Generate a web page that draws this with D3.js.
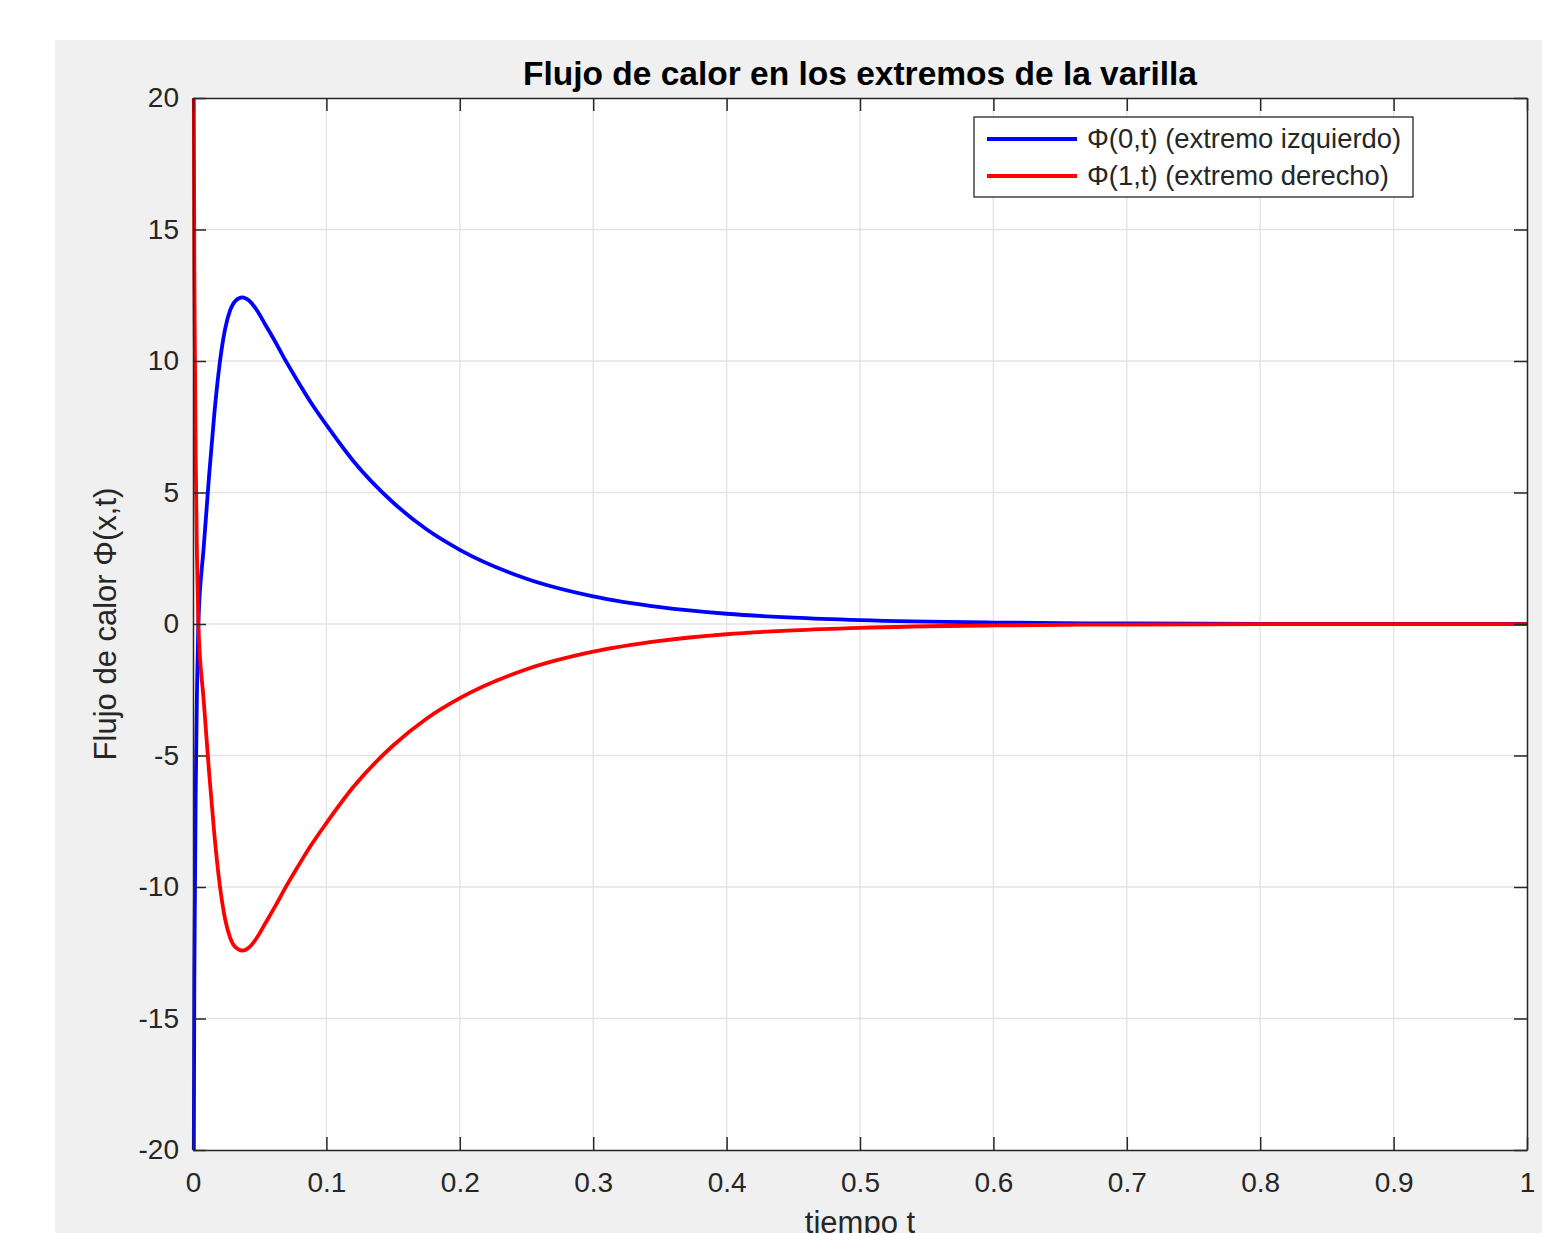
<!DOCTYPE html>
<html>
<head>
<meta charset="utf-8">
<script src="https://cdn.jsdelivr.net/npm/d3@7"></script>
<style>
  body { margin: 0; background: #fff; }
  svg { display: block; font-family: "Liberation Sans", Arial, Helvetica, sans-serif; }
</style>
</head>
<body>
<div id="chart"></div>
<script>
// values
var tiempo = [0, 0.0005, 0.001, 0.0015, 0.002, 0.003, 0.004, 0.008, 0.012, 0.016, 0.02,
  0.024, 0.028, 0.032, 0.037, 0.042, 0.048, 0.054, 0.062, 0.069, 0.0777, 0.088, 0.1,
  0.12, 0.15, 0.175, 0.2, 0.25, 0.3, 0.35, 0.4, 0.45, 0.5, 0.6, 0.7, 0.8, 0.9, 1.0];
var flujoIzq = [-40, -22, -13.5, -10, -6.5, -2.5, 0, 2.9, 5.6, 8.0, 9.9,
  11.2, 11.95, 12.3, 12.42, 12.3, 11.92, 11.4, 10.7, 10.05, 9.3, 8.45, 7.57,
  6.21, 4.62, 3.6, 2.82, 1.72, 1.05, 0.64, 0.39, 0.24, 0.146, 0.054, 0.02, 0.0075, 0.003, 0.001];
var flujoDer = [40, 22, 13.5, 10, 6.5, 2.5, 0, -2.9, -5.6, -8.0, -9.9,
  -11.2, -11.95, -12.3, -12.42, -12.3, -11.92, -11.4, -10.7, -10.05, -9.3, -8.45, -7.57,
  -6.21, -4.62, -3.6, -2.82, -1.72, -1.05, -0.64, -0.39, -0.24, -0.146, -0.054, -0.02, -0.0075, -0.003, -0.001];
var xTicks = [0, 0.1, 0.2, 0.3, 0.4, 0.5, 0.6, 0.7, 0.8, 0.9, 1];
var yTicks = [-20, -15, -10, -5, 0, 5, 10, 15, 20];
var seriesNames = ["\u03A6(0,t) (extremo izquierdo)", "\u03A6(1,t) (extremo derecho)"];
var seriesColors = ["#0000ff", "#ff0000"];

var width = 1542;
var height = 1233;
var pLeft = 193, pRight = 1527, pTop = 98, pBottom = 1150;

var svg = d3.select("#chart")
  .append("svg")
  .attr("width", width)
  .attr("height", height);

// gray figure panel
svg.append("rect")
  .attr("x", 55).attr("y", 40)
  .attr("width", width - 55).attr("height", height - 40)
  .attr("fill", "#f0f0f0");

svg.append("rect")
  .attr("x", pLeft).attr("y", pTop)
  .attr("width", pRight - pLeft).attr("height", pBottom - pTop)
  .attr("fill", "#fff");

var x = d3.scaleLinear().domain([0, 1]).range([pLeft, pRight]);
var y = d3.scaleLinear().domain([-20, 20]).range([pBottom, pTop]);

// grid
svg.append("g").selectAll("line")
  .data(xTicks.slice(1, -1))
  .enter().append("line")
  .attr("x1", function(d) { return x(d); }).attr("x2", function(d) { return x(d); })
  .attr("y1", pTop).attr("y2", pBottom)
  .attr("stroke", "#e3e3e3").attr("stroke-width", 1.3);

svg.append("g").selectAll("line")
  .data(yTicks.slice(1, -1))
  .enter().append("line")
  .attr("y1", function(d) { return y(d); }).attr("y2", function(d) { return y(d); })
  .attr("x1", pLeft).attr("x2", pRight)
  .attr("stroke", "#e3e3e3").attr("stroke-width", 1.3);

// curves
svg.append("clipPath").attr("id", "clip")
  .append("rect")
  .attr("x", pLeft - 4).attr("y", pTop)
  .attr("width", pRight - pLeft + 8).attr("height", pBottom - pTop);

var line = d3.line()
  .x(function(d) { return x(d[0]); })
  .y(function(d) { return y(d[1]); })
  .curve(d3.curveMonotoneX);

var curves = svg.append("g").attr("clip-path", "url(#clip)");
[flujoIzq, flujoDer].forEach(function(vals, i) {
  curves.append("path")
    .datum(tiempo.map(function(t, k) { return [t, vals[k]]; }))
    .attr("d", line)
    .attr("fill", "none")
    .attr("stroke", seriesColors[i])
    .attr("stroke-width", 3.8)
    .attr("stroke-linejoin", "round");
});

// axes (ticks inward, box on)
var axisColor = "#262626";
var tickLen = 13;
var fmt = function(d) { return String(d); };

svg.append("g")
  .attr("transform", "translate(0," + pBottom + ")")
  .call(d3.axisBottom(x).tickValues(xTicks).tickSizeInner(-tickLen).tickSizeOuter(0).tickPadding(22)
    .tickFormat(fmt));

svg.append("g")
  .attr("transform", "translate(0," + pTop + ")")
  .call(d3.axisTop(x).tickValues(xTicks).tickSizeInner(-tickLen).tickSizeOuter(0).tickFormat(""));

svg.append("g")
  .attr("transform", "translate(" + pLeft + ",0)")
  .call(d3.axisLeft(y).tickValues(yTicks).tickSizeInner(-tickLen).tickSizeOuter(0).tickPadding(14)
    .tickFormat(fmt));

svg.append("g")
  .attr("transform", "translate(" + pRight + ",0)")
  .call(d3.axisRight(y).tickValues(yTicks).tickSizeInner(-tickLen).tickSizeOuter(0).tickFormat(""));

svg.selectAll(".domain").attr("stroke", axisColor).attr("stroke-width", 1.5);
svg.selectAll(".tick line").attr("stroke", axisColor).attr("stroke-width", 1.5);
svg.selectAll(".tick text")
  .attr("fill", axisColor)
  .style("font-size", "28px")
  .style("font-family", "Liberation Sans, Arial, sans-serif");

// titles
svg.append("text")
  .attr("x", (pLeft + pRight) / 2).attr("y", 85)
  .attr("text-anchor", "middle")
  .style("font-size", "33.5px").style("font-weight", "bold")
  .attr("fill", "#000")
  .text("Flujo de calor en los extremos de la varilla");

svg.append("text")
  .attr("x", (pLeft + pRight) / 2).attr("y", 1233)
  .attr("text-anchor", "middle")
  .style("font-size", "31px")
  .attr("fill", axisColor)
  .text("tiempo t");

svg.append("text")
  .attr("transform", "translate(116," + (pTop + pBottom) / 2 + ") rotate(-90)")
  .attr("text-anchor", "middle")
  .style("font-size", "31px")
  .attr("fill", axisColor)
  .text("Flujo de calor \u03A6(x,t)");

// legend
var legend = svg.append("g").attr("transform", "translate(974,117)");
legend.append("rect")
  .attr("width", 439).attr("height", 80)
  .attr("fill", "#fff")
  .attr("stroke", axisColor).attr("stroke-width", 1.3);

seriesNames.forEach(function(name, i) {
  var row = legend.append("g").attr("transform", "translate(0," + (22 + i * 37) + ")");
  row.append("line")
    .attr("x1", 13).attr("x2", 103)
    .attr("stroke", seriesColors[i]).attr("stroke-width", 3.8);
  row.append("text")
    .attr("x", 113).attr("y", 9)
    .style("font-size", "27.4px")
    .attr("fill", axisColor)
    .text(name);
});
</script>
</body>
</html>
